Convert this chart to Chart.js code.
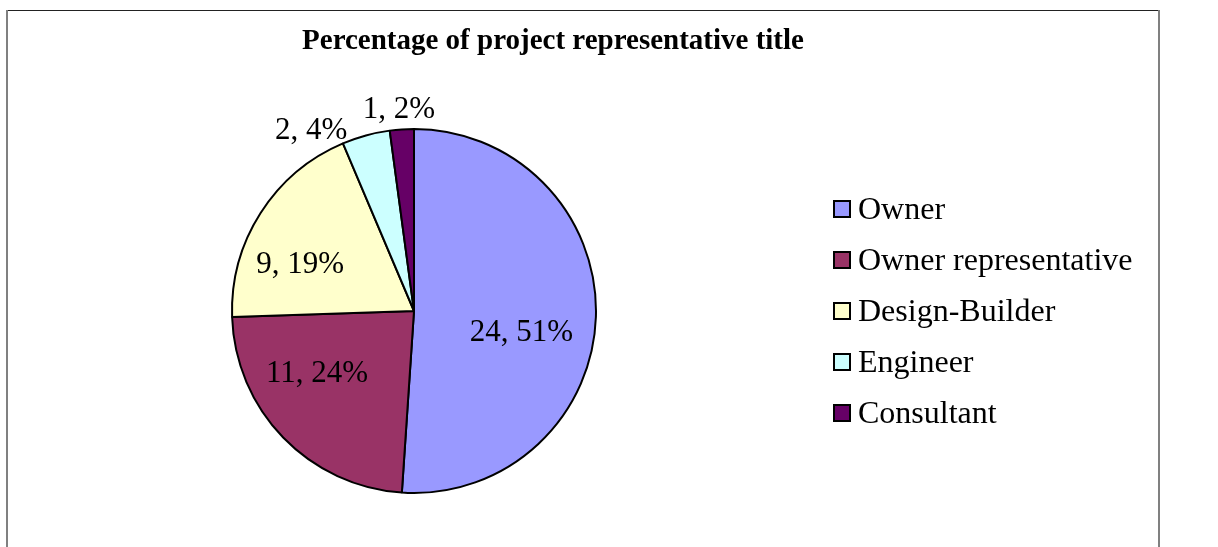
<!DOCTYPE html>
<html>
<head>
<meta charset="utf-8">
<script src="https://cdn.jsdelivr.net/npm/chart.js@4/dist/chart.umd.min.js"></script>
<style>
  body { margin: 0; background: #fff; }
  #grafico { display: block; }
</style>
</head>
<body>
<canvas id="grafico" width="1218" height="547"></canvas>
<script>
// --- DADOS ---
const titulo = "Percentage of project representative title";
const categorias = ["Owner", "Owner representative", "Design-Builder", "Engineer", "Consultant"];
const contagens = [24, 11, 9, 2, 1];
const percentuais = [51, 24, 19, 4, 2];
const cores = ["#9999FF", "#993366", "#FFFFCC", "#CCFFFF", "#660066"];

const serif = '"Liberation Serif", "Times New Roman", serif';

// rotulos das fatias: [fator do raio, desvio do angulo em graus]
const posRotulos = [[0.60, 8.6], [0.63, 11.8], [0.68, -9.6], [1.15, -14.1], [1.12, -0.4]];

// --- PLUGINS ---
const rotulosFatias = {
    id: 'rotulosFatias',
    afterDatasetsDraw(chart) {
        const ctx = chart.ctx;
        const arcos = chart.getDatasetMeta(0).data;
        ctx.save();
        ctx.font = '31px ' + serif;
        ctx.fillStyle = '#000';
        ctx.textAlign = 'center';
        ctx.textBaseline = 'middle';
        arcos.forEach((arco, i) => {
            const p = arco.getProps(['x', 'y', 'startAngle', 'endAngle', 'outerRadius'], true);
            const ang = (p.startAngle + p.endAngle) / 2 + posRotulos[i][1] * Math.PI / 180;
            const r = p.outerRadius * posRotulos[i][0];
            // +2: o "middle" do canvas fica um pouco acima do meio dos digitos
            ctx.fillText(`${contagens[i]}, ${percentuais[i]}%`, p.x + r * Math.cos(ang), p.y + r * Math.sin(ang) + 2);
        });
        ctx.restore();
    }
};

const molduraTituloLegenda = {
    id: 'molduraTituloLegenda',
    beforeDraw(chart) {
        const ctx = chart.ctx;
        ctx.save();
        ctx.fillStyle = '#fff';
        ctx.fillRect(0, 0, chart.width, chart.height);
        // moldura (cortada embaixo)
        ctx.fillStyle = '#222';
        ctx.fillRect(7, 10, 1153, 1);
        ctx.fillStyle = '#808080';
        ctx.fillRect(6, 10, 2, chart.height - 10);
        ctx.fillRect(1158, 10, 2, chart.height - 10);
        ctx.restore();
    },
    afterDraw(chart) {
        const ctx = chart.ctx;
        const area = chart.chartArea;
        ctx.save();
        // titulo
        ctx.font = 'bold 29px ' + serif;
        ctx.fillStyle = '#000';
        ctx.textAlign = 'center';
        ctx.textBaseline = 'alphabetic';
        ctx.fillText(titulo, 553, 49);

        // legenda
        const cy = (area.top + area.bottom) / 2;
        const passo = 51;
        const x0 = area.right + 19;
        ctx.font = '32px ' + serif;
        ctx.textAlign = 'left';
        ctx.textBaseline = 'middle';
        categorias.forEach((nome, i) => {
            const y = cy + (i - (categorias.length - 1) / 2) * passo;
            ctx.fillStyle = cores[i];
            ctx.fillRect(x0, y - 8, 16, 16);
            ctx.lineWidth = 2;
            ctx.strokeStyle = '#000';
            ctx.strokeRect(x0, y - 8, 16, 16);
            ctx.fillStyle = '#000';
            ctx.fillText(nome, x0 + 24, y + 2);
        });
        ctx.restore();
    }
};

// --- GRAFICO ---
function renderGrafico() {
    const ctx = document.getElementById('grafico').getContext('2d');
    new Chart(ctx, {
        type: 'pie',
        data: {
            labels: categorias,
            datasets: [{
                data: contagens,
                backgroundColor: cores,
                borderColor: '#000',
                borderWidth: 2
            }]
        },
        options: {
            responsive: false,
            animation: false,
            layout: { padding: { left: 13, right: 403, top: 128, bottom: 53 } },
            plugins: {
                legend: { display: false },
                title: { display: false },
                tooltip: { enabled: false }
            }
        },
        plugins: [molduraTituloLegenda, rotulosFatias]
    });
}

renderGrafico();
</script>
</body>
</html>
